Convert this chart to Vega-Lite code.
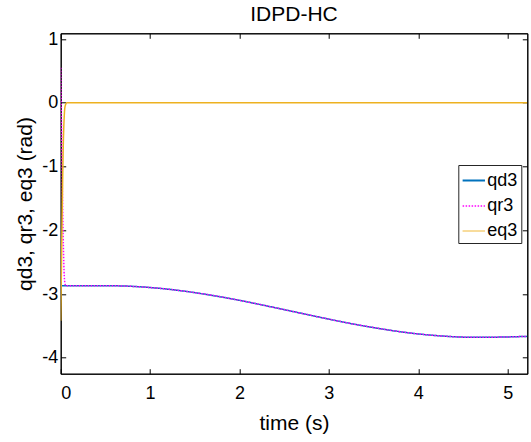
{
  "$schema": "https://vega.github.io/schema/vega-lite/v6.json",
  "autosize": {"type": "none"},
  "width": 466.6,
  "height": 340.4,
  "padding": {"left": 60.7, "top": 33.3, "right": 3.7, "bottom": 68.3},
  "background": "white",
  "title": {"text": "IDPD-HC", "font": "Liberation Sans", "fontSize": 21, "fontWeight": "normal", "color": "black", "anchor": "middle", "offset": 5},
  "config": {
    "view": {"stroke": "black", "strokeWidth": 1},
    "axis": {"labelFont": "Liberation Sans", "titleFont": "Liberation Sans", "labelFontSize": 18, "titleFontSize": 21, "titleFontWeight": "normal", "labelColor": "black", "titleColor": "black", "domainColor": "black", "tickColor": "black", "grid": false, "labelExpr": "toString(datum.value)"}
  },
  "data": {"values": [
    {"t": 0.0, "v": -2.870, "s": "qd3"}, {"t": 0.2, "v": -2.870, "s": "qd3"}, {"t": 0.4, "v": -2.870, "s": "qd3"}, {"t": 0.6, "v": -2.871, "s": "qd3"}, {"t": 0.8, "v": -2.880, "s": "qd3"}, {"t": 1.0, "v": -2.898, "s": "qd3"}, {"t": 1.2, "v": -2.924, "s": "qd3"}, {"t": 1.4, "v": -2.958, "s": "qd3"}, {"t": 1.6, "v": -3.000, "s": "qd3"}, {"t": 1.8, "v": -3.047, "s": "qd3"}, {"t": 2.0, "v": -3.099, "s": "qd3"}, {"t": 2.2, "v": -3.156, "s": "qd3"}, {"t": 2.4, "v": -3.215, "s": "qd3"}, {"t": 2.6, "v": -3.275, "s": "qd3"}, {"t": 2.8, "v": -3.335, "s": "qd3"}, {"t": 3.0, "v": -3.394, "s": "qd3"}, {"t": 3.2, "v": -3.451, "s": "qd3"}, {"t": 3.4, "v": -3.503, "s": "qd3"}, {"t": 3.6, "v": -3.550, "s": "qd3"}, {"t": 3.8, "v": -3.592, "s": "qd3"}, {"t": 4.0, "v": -3.626, "s": "qd3"}, {"t": 4.2, "v": -3.652, "s": "qd3"}, {"t": 4.4, "v": -3.670, "s": "qd3"}, {"t": 4.6, "v": -3.679, "s": "qd3"}, {"t": 4.8, "v": -3.678, "s": "qd3"}, {"t": 5.0, "v": -3.673, "s": "qd3"}, {"t": 5.2, "v": -3.665, "s": "qd3"}, {"t": 5.22, "v": -3.664, "s": "qd3"},
    {"t": 0.0, "v": 0.55, "s": "qr3"}, {"t": 0.01, "v": -0.45, "s": "qr3"}, {"t": 0.02, "v": -1.45, "s": "qr3"}, {"t": 0.03, "v": -2.25, "s": "qr3"}, {"t": 0.04, "v": -2.72, "s": "qr3"}, {"t": 0.05, "v": -2.85, "s": "qr3"}, {"t": 0.06, "v": -2.87, "s": "qr3"}, {"t": 0.2, "v": -2.870, "s": "qr3"}, {"t": 0.4, "v": -2.870, "s": "qr3"}, {"t": 0.6, "v": -2.871, "s": "qr3"}, {"t": 0.8, "v": -2.880, "s": "qr3"}, {"t": 1.0, "v": -2.898, "s": "qr3"}, {"t": 1.2, "v": -2.924, "s": "qr3"}, {"t": 1.4, "v": -2.958, "s": "qr3"}, {"t": 1.6, "v": -3.000, "s": "qr3"}, {"t": 1.8, "v": -3.047, "s": "qr3"}, {"t": 2.0, "v": -3.099, "s": "qr3"}, {"t": 2.2, "v": -3.156, "s": "qr3"}, {"t": 2.4, "v": -3.215, "s": "qr3"}, {"t": 2.6, "v": -3.275, "s": "qr3"}, {"t": 2.8, "v": -3.335, "s": "qr3"}, {"t": 3.0, "v": -3.394, "s": "qr3"}, {"t": 3.2, "v": -3.451, "s": "qr3"}, {"t": 3.4, "v": -3.503, "s": "qr3"}, {"t": 3.6, "v": -3.550, "s": "qr3"}, {"t": 3.8, "v": -3.592, "s": "qr3"}, {"t": 4.0, "v": -3.626, "s": "qr3"}, {"t": 4.2, "v": -3.652, "s": "qr3"}, {"t": 4.4, "v": -3.670, "s": "qr3"}, {"t": 4.6, "v": -3.679, "s": "qr3"}, {"t": 4.8, "v": -3.678, "s": "qr3"}, {"t": 5.0, "v": -3.673, "s": "qr3"}, {"t": 5.2, "v": -3.665, "s": "qr3"}, {"t": 5.22, "v": -3.664, "s": "qr3"},
    {"t": 0.0, "v": -3.42, "s": "eq3"}, {"t": 0.01, "v": -2.4, "s": "eq3"}, {"t": 0.02, "v": -1.4, "s": "eq3"}, {"t": 0.03, "v": -0.6, "s": "eq3"}, {"t": 0.04, "v": -0.2, "s": "eq3"}, {"t": 0.05, "v": -0.05, "s": "eq3"}, {"t": 0.07, "v": 0.0, "s": "eq3"}, {"t": 1.0, "v": 0.0, "s": "eq3"}, {"t": 2.0, "v": 0.0, "s": "eq3"}, {"t": 3.0, "v": 0.0, "s": "eq3"}, {"t": 4.0, "v": 0.0, "s": "eq3"}, {"t": 5.0, "v": 0.0, "s": "eq3"}, {"t": 5.22, "v": 0.0, "s": "eq3"}
  ]},
  "resolve": {"axis": {"x": "independent", "y": "independent"}},
  "layer": [
    {
      "mark": {"type": "line", "interpolate": "monotone", "strokeWidth": 1.5, "clip": true},
      "encoding": {
        "x": {"field": "t", "type": "quantitative", "scale": {"domain": [0, 5.22], "nice": false, "zero": false},
              "axis": {"orient": "bottom", "title": "time (s)", "values": [0, 1, 2, 3, 4, 5], "tickSize": -5, "labelPadding": 16, "titlePadding": 10, "domain": true}},
        "y": {"field": "v", "type": "quantitative", "scale": {"domain": [-4.25, 1.09], "nice": false, "zero": false},
              "axis": {"orient": "left", "title": "qd3, qr3, eq3 (rad)", "values": [-4, -3, -2, -1, 0, 1], "tickSize": -5, "labelPadding": 8, "titlePadding": 6, "domain": true}},
        "color": {"field": "s", "type": "nominal", "sort": ["qd3", "qr3", "eq3"],
                  "scale": {"domain": ["qd3", "qr3", "eq3"], "range": ["#0072BD", "#FF00FF", "#EDB120"]},
                  "legend": {"title": null, "orient": "none", "legendX": 397.6, "legendY": 131.7, "symbolType": "stroke", "symbolSize": 500, "symbolStrokeWidth": 1.5, "labelFont": "Liberation Sans", "labelFontSize": 18, "labelColor": "black", "labelOffset": 1, "rowPadding": 4, "padding": 3, "strokeColor": "#262626", "fillColor": "white"}},
        "strokeDash": {"field": "s", "type": "nominal", "sort": ["qd3", "qr3", "eq3"],
                  "scale": {"domain": ["qd3", "qr3", "eq3"], "range": [[1, 0], [1.5, 1.5], [1, 0]]}, "legend": null},
        "strokeWidth": {"field": "s", "type": "nominal", "scale": {"domain": ["qd3", "qr3", "eq3"], "range": [1.8, 1, 1.2]}, "legend": null},
        "order": {"field": "t", "type": "quantitative"}
      }
    },
    {
      "mark": {"type": "rule", "opacity": 0},
      "encoding": {
        "x": {"field": "t", "type": "quantitative", "aggregate": "min",
              "axis": {"orient": "top", "title": null, "labels": false, "values": [0, 1, 2, 3, 4, 5], "tickSize": -5, "domain": true}},
        "y": {"field": "v", "type": "quantitative", "aggregate": "min",
              "axis": {"orient": "right", "title": null, "labels": false, "values": [-4, -3, -2, -1, 0, 1], "tickSize": -5, "domain": true}}
      }
    }
  ]
}
